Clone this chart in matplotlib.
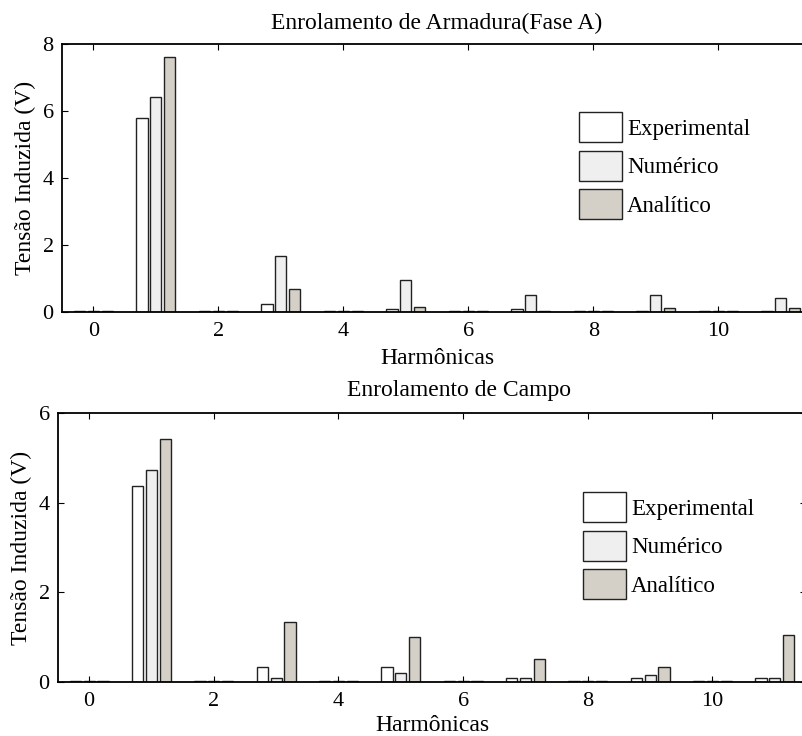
"""Espectro harmônico da tensão induzida: armadura (fase A) e campo."""

import numpy as np
import matplotlib.pyplot as plt

plt.rcParams["font.family"] = ["Liberation Serif", "DejaVu Serif"]

harmonicas = np.arange(12)
series = ["Experimental", "Numérico", "Analítico"]
cores = ["#ffffff", "#efefef", "#d4d0c8"]

# Enrolamento de Armadura (Fase A)
arm_exp = [0.03, 5.80, 0.03, 0.23, 0.03, 0.08, 0.03, 0.08, 0.03, 0.03, 0.03, 0.03]
arm_num = [0.03, 6.42, 0.03, 1.67, 0.03, 0.95, 0.03, 0.50, 0.03, 0.50, 0.03, 0.43]
arm_ana = [0.03, 7.62, 0.03, 0.68, 0.03, 0.16, 0.03, 0.04, 0.03, 0.11, 0.03, 0.11]

# Enrolamento de Campo
cam_exp = [0.02, 4.38, 0.02, 0.33, 0.02, 0.33, 0.02, 0.08, 0.02, 0.08, 0.02, 0.08]
cam_num = [0.02, 4.72, 0.02, 0.08, 0.02, 0.19, 0.02, 0.08, 0.02, 0.16, 0.02, 0.08]
cam_ana = [0.02, 5.43, 0.02, 1.33, 0.02, 1.00, 0.02, 0.51, 0.02, 0.33, 0.02, 1.04]

W, H = 802, 736
fig = plt.figure(figsize=(W / 100, H / 100), dpi=100)


def px_axes(left, right, top, bottom):
    return fig.add_axes([left / W, 1 - bottom / H, (right - left) / W, (bottom - top) / H])


def painel(ax, dados, ymax, titulo, title_x, title_pad, xlab_pad, leg_xy):
    offs = [-0.222, 0.0, 0.222]
    for vals, off, c, nome in zip(dados, offs, cores, series):
        ax.bar(harmonicas + off, vals, width=0.18, color=c, edgecolor="#222222",
               linewidth=1.0, label=nome)
    ax.set_xlim(-0.5, 11.5)
    ax.set_ylim(0, ymax)
    ax.set_xticks(range(0, 11, 2))
    ax.set_yticks(range(0, ymax + 1, 2))
    ax.tick_params(direction="in", length=4.5, width=0.8, labelsize=16,
                   top=True, right=True)
    ax.tick_params(axis="x", pad=7.5)
    ax.tick_params(axis="y", pad=6)
    for s in ax.spines.values():
        s.set_linewidth(1.3)
    ax.set_xlabel("Harmônicas", fontsize=17, labelpad=xlab_pad)
    ax.set_ylabel("Tensão Induzida (V)", fontsize=17, labelpad=5)
    ax.set_title(titulo, fontsize=17, x=title_x, pad=title_pad)
    ax.legend(loc="upper left", bbox_to_anchor=(leg_xy[0] / W, 1 - leg_xy[1] / H),
              bbox_transform=fig.transFigure, frameon=False, fontsize=16.5,
              borderpad=0, borderaxespad=0, handlelength=1.88, handleheight=1.64,
              handletextpad=0.22, labelspacing=0.37)


ax1 = px_axes(62, 812, 44, 312)
painel(ax1, [arm_exp, arm_num, arm_ana], 8, "Enrolamento de Armadura(Fase A)",
       0.5, 11, 4.5, (579, 112))

ax2 = px_axes(58, 806, 413, 682)
painel(ax2, [cam_exp, cam_num, cam_ana], 6, "Enrolamento de Campo",
       0.536, 12, 2.5, (583, 492))

fig.savefig("out.png", dpi=100)
